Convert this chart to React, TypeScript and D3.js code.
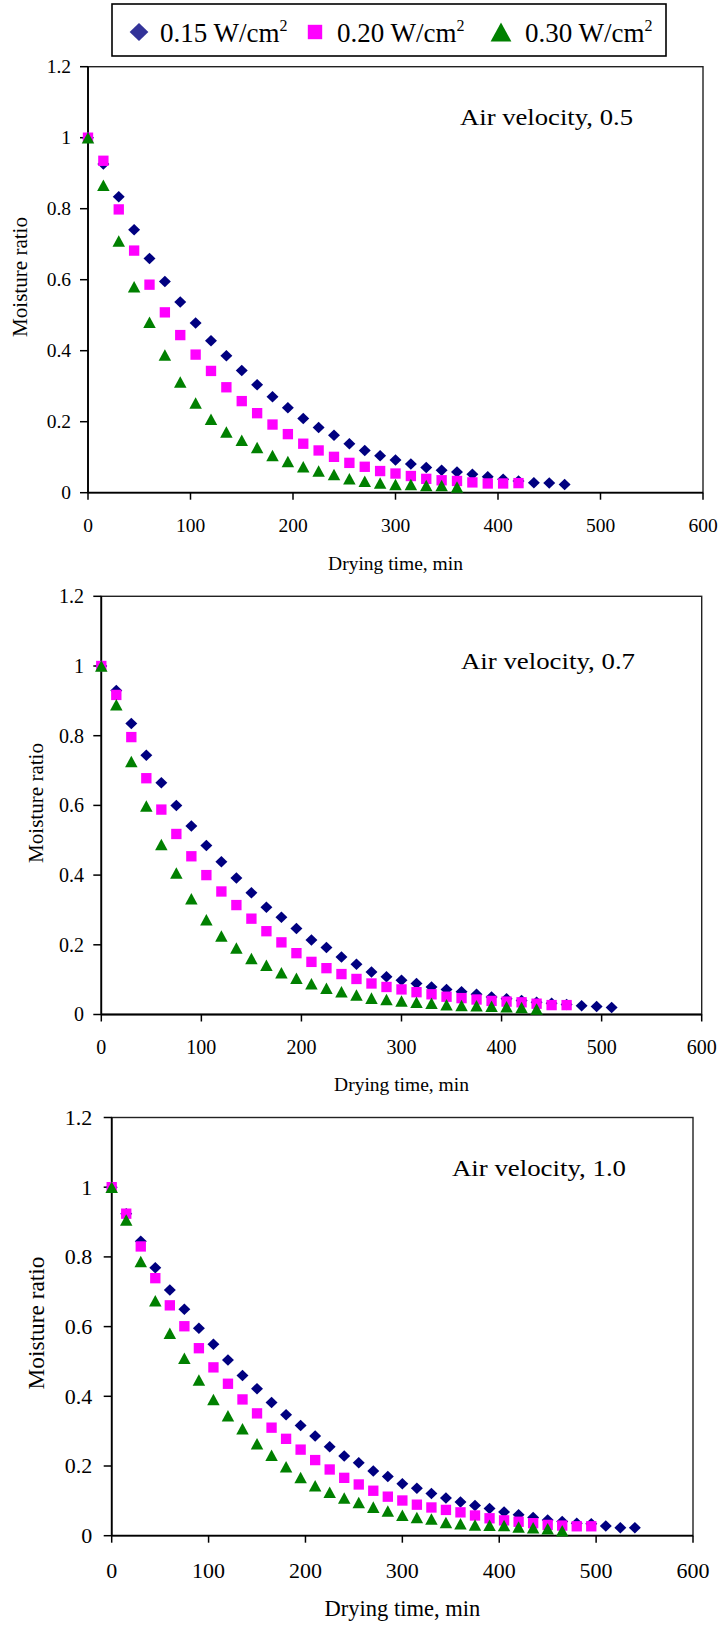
import React from "react"
import * as d3 from "d3"

// drying time (min) for every reading; each series uses the first N entries
const dryingTimes = [
  0, 15, 30, 45, 60, 75, 90, 105, 120, 135, 150, 165, 180, 195, 210, 225, 240, 255, 270,
  285, 300, 315, 330, 345, 360, 375, 390, 405, 420, 435, 450, 465, 480, 495, 510, 525, 540,
]

// air velocity 0.5
const mr05_015 = [1.0, 0.926, 0.834, 0.741, 0.66, 0.595, 0.537, 0.478, 0.428, 0.386, 0.344, 0.304, 0.27, 0.239, 0.209, 0.184, 0.162, 0.138, 0.119, 0.104, 0.092, 0.081, 0.071, 0.063, 0.058, 0.052, 0.045, 0.038, 0.033, 0.028, 0.027, 0.023]
const mr05_020 = [1.0, 0.935, 0.798, 0.682, 0.586, 0.508, 0.444, 0.389, 0.343, 0.297, 0.258, 0.224, 0.192, 0.165, 0.138, 0.119, 0.101, 0.084, 0.073, 0.061, 0.054, 0.047, 0.039, 0.035, 0.033, 0.029, 0.026, 0.026, 0.027]
const mr05_030 = [1.0, 0.866, 0.709, 0.58, 0.48, 0.388, 0.312, 0.253, 0.207, 0.171, 0.148, 0.127, 0.105, 0.088, 0.073, 0.061, 0.051, 0.039, 0.032, 0.027, 0.023, 0.023, 0.02, 0.02, 0.016]

// air velocity 0.7
const mr07_015 = [1.0, 0.93, 0.835, 0.744, 0.665, 0.6, 0.541, 0.485, 0.438, 0.392, 0.349, 0.308, 0.279, 0.247, 0.214, 0.192, 0.165, 0.144, 0.122, 0.108, 0.098, 0.089, 0.079, 0.072, 0.065, 0.058, 0.05, 0.045, 0.04, 0.035, 0.032, 0.029, 0.025, 0.023, 0.02]
const mr07_020 = [1.0, 0.917, 0.796, 0.678, 0.588, 0.518, 0.454, 0.4, 0.353, 0.314, 0.275, 0.239, 0.207, 0.176, 0.151, 0.133, 0.116, 0.102, 0.089, 0.079, 0.072, 0.064, 0.058, 0.051, 0.047, 0.043, 0.039, 0.037, 0.035, 0.031, 0.027, 0.027]
const mr07_030 = [1.0, 0.889, 0.726, 0.598, 0.488, 0.406, 0.332, 0.272, 0.225, 0.191, 0.161, 0.141, 0.12, 0.104, 0.088, 0.075, 0.065, 0.056, 0.047, 0.043, 0.039, 0.035, 0.032, 0.028, 0.026, 0.025, 0.024, 0.022, 0.02, 0.016]

// air velocity 1.0
const mr10_015 = [1.0, 0.924, 0.845, 0.769, 0.705, 0.65, 0.595, 0.549, 0.504, 0.46, 0.422, 0.382, 0.347, 0.316, 0.286, 0.255, 0.229, 0.209, 0.186, 0.17, 0.149, 0.136, 0.121, 0.108, 0.097, 0.087, 0.078, 0.068, 0.06, 0.052, 0.045, 0.041, 0.036, 0.034, 0.028, 0.023, 0.023]
const mr10_020 = [1.0, 0.924, 0.83, 0.739, 0.661, 0.601, 0.538, 0.483, 0.436, 0.391, 0.351, 0.31, 0.278, 0.247, 0.217, 0.19, 0.166, 0.147, 0.129, 0.112, 0.101, 0.089, 0.081, 0.074, 0.067, 0.058, 0.05, 0.044, 0.04, 0.036, 0.031, 0.029, 0.027, 0.027]
const mr10_030 = [1.0, 0.906, 0.787, 0.674, 0.581, 0.509, 0.447, 0.391, 0.344, 0.307, 0.264, 0.231, 0.198, 0.167, 0.143, 0.125, 0.108, 0.095, 0.082, 0.071, 0.059, 0.052, 0.048, 0.038, 0.034, 0.031, 0.03, 0.029, 0.025, 0.023, 0.02, 0.014]

const seriesNames = ["0.15 W/cm", "0.20 W/cm", "0.30 W/cm"]
const seriesColors = ["#000080", "#FF00FF", "#008000"]
const xTicks = [0, 100, 200, 300, 400, 500, 600]
const yTicks = [0, 0.2, 0.4, 0.6, 0.8, 1, 1.2]
const panelNotes = ["Air velocity, 0.5", "Air velocity, 0.7", "Air velocity, 1.0"]
const panelSeries = [
  [mr05_015, mr05_020, mr05_030],
  [mr07_015, mr07_020, mr07_030],
  [mr10_015, mr10_020, mr10_030],
]

// geometry of each of the three stacked charts
const layouts = [
  { left: 88, right: 703, top: 66.7, bottom: 492.7, tickFont: 19.5, yLabelX: 71, xLabelY: 532, titleY: 570, titleFont: 19.5, yTitleX: 27, yTitleY: 277, yTitleFont: 21, yTitleLen: 120, noteX: 460, noteY: 125, noteFont: 24, noteLen: 173 },
  { left: 101.3, right: 701.7, top: 596.3, bottom: 1014.5, tickFont: 20, yLabelX: 84, xLabelY: 1053.5, titleY: 1091, titleFont: 19.5, yTitleX: 43, yTitleY: 803, yTitleFont: 21, yTitleLen: 120, noteX: 461, noteY: 669, noteFont: 24, noteLen: 174 },
  { left: 111.7, right: 693, top: 1117.5, bottom: 1535.7, tickFont: 22, yLabelX: 92.3, xLabelY: 1577.5, titleY: 1616, titleFont: 22.5, yTitleX: 44, yTitleY: 1323, yTitleFont: 23, yTitleLen: 133, noteX: 452, noteY: 1176, noteFont: 24, noteLen: 174 },
]

const FONT = "'Liberation Serif', 'Times New Roman', serif"

function markerPath(kind: number, s: number) {
  if (kind === 0) {
    const w = s * 0.52, h = s * 0.5
    return `M0,${-h}L${w},0L0,${h}L${-w},0Z`
  }
  if (kind === 1) {
    const h = s * 0.45
    return `M${-h},${-h}H${h}V${h}H${-h}Z`
  }
  const w = s * 0.52, h = s * 0.48
  return `M0,${-h}L${w},${h}L${-w},${h}Z`
}

function Panel({ idx }: { idx: number }) {
  const L = layouts[idx]
  const x = d3.scaleLinear().domain([0, 600]).range([L.left, L.right])
  const y = d3.scaleLinear().domain([0, 1.2]).range([L.bottom, L.top])
  const series = panelSeries[idx]
  const cx = (L.left + L.right) / 2

  return (
    <g>
      <rect x={L.left} y={L.top} width={L.right - L.left} height={L.bottom - L.top} fill="none" stroke="#222" strokeWidth={1.4} />
      <line x1={L.left} x2={L.left} y1={L.top} y2={L.bottom} stroke="#000" strokeWidth={1.8} />
      <line x1={L.left} x2={L.right} y1={L.bottom} y2={L.bottom} stroke="#000" strokeWidth={1.8} />
      {yTicks.map(t => (
        <g key={"y" + t}>
          <line x1={L.left - 8} x2={L.left} y1={y(t)} y2={y(t)} stroke="#000" strokeWidth={1.5} />
          <text x={L.yLabelX} y={y(t) + L.tickFont * 0.34} textAnchor="end" fontSize={L.tickFont} fontFamily={FONT}>{t}</text>
        </g>
      ))}
      {xTicks.map(t => (
        <g key={"x" + t}>
          <line x1={x(t)} x2={x(t)} y1={L.bottom} y2={L.bottom + 7} stroke="#000" strokeWidth={1.5} />
          <text x={x(t)} y={L.xLabelY} textAnchor="middle" fontSize={L.tickFont} fontFamily={FONT}>{t}</text>
        </g>
      ))}
      <text x={cx} y={L.titleY} textAnchor="middle" fontSize={L.titleFont} fontFamily={FONT}>Drying time, min</text>
      <text transform={`translate(${L.yTitleX},${L.yTitleY}) rotate(-90)`} textAnchor="middle" fontSize={L.yTitleFont} fontFamily={FONT}
        textLength={L.yTitleLen} lengthAdjust="spacingAndGlyphs">Moisture ratio</text>
      <text x={L.noteX} y={L.noteY} fontSize={L.noteFont} fontFamily={FONT} textLength={L.noteLen} lengthAdjust="spacingAndGlyphs">{panelNotes[idx]}</text>
      {series.map((vals, si) => (
        <g key={si} fill={seriesColors[si]}>
          {vals.map((v, i) => (
            <path key={i} d={markerPath(si, si === 2 ? 12 : 11.5)} transform={`translate(${x(dryingTimes[i])},${y(v)})`} />
          ))}
        </g>
      ))}
    </g>
  )
}

function Legend() {
  const items = [
    { mx: 139, tx: 160 },
    { mx: 315, tx: 337 },
    { mx: 501, tx: 525 },
  ]
  const legendColors = ["#333399", "#FF00FF", "#008000"]
  return (
    <g>
      <rect x={112} y={4} width={554} height={52} fill="#fff" stroke="#000" strokeWidth={1.6} />
      {items.map((it, i) => (
        <g key={i}>
          <path d={markerPath(i, i === 2 ? 20 : i === 1 ? 16 : 18)} transform={`translate(${it.mx},32)`} fill={legendColors[i]} />
          <text x={it.tx} y={42} fontSize={27} fontFamily={FONT}>
            {seriesNames[i]}
            <tspan dy={-11} fontSize={16}>2</tspan>
          </text>
        </g>
      ))}
    </g>
  )
}

export default function App() {
  return (
    <svg width={721} height={1625} style={{ position: "absolute", left: 0, top: 0, background: "#fff" }}>
      <rect width={721} height={1625} fill="#fff" />
      <Legend />
      {layouts.map((_, i) => <Panel key={i} idx={i} />)}
    </svg>
  )
}
